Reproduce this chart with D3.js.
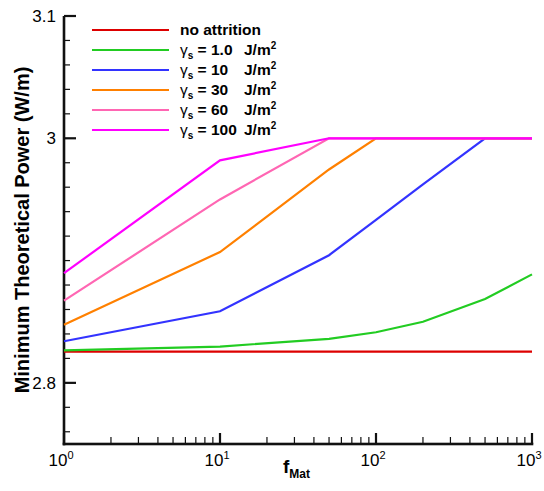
<!DOCTYPE html>
<html>
<head>
<meta charset="utf-8">
<script src="https://cdn.jsdelivr.net/npm/d3@7"></script>
<style>
  body { margin: 0; background: #fff; }
  text { font-family: "Liberation Sans", Arial, sans-serif; }
</style>
</head>
<body>
<div id="chart"></div>
<script>
const fMat = [1, 10, 50, 100, 200, 500, 1000];
const noAttrition = [2.8255, 2.8255, 2.8255, 2.8255, 2.8255, 2.8255, 2.8255];
const gamma1 = [2.8265, 2.8297, 2.836, 2.8414, 2.850, 2.8685, 2.8887];
const gamma10 = [2.834, 2.8585, 2.9044, 2.9333, 2.9623, 3.0, 3.0];
const gamma30 = [2.8476, 2.907, 2.9745, 3.0, 3.0, 3.0, 3.0];
const gamma60 = [2.8672, 2.950, 3.0, 3.0, 3.0, 3.0, 3.0];
const gamma100 = [2.8897, 2.982, 3.0, 3.0, 3.0, 3.0, 3.0];

const seriesNames = ["no attrition", "1.0", "10", "30", "60", "100"];
const seriesValues = [noAttrition, gamma1, gamma10, gamma30, gamma60, gamma100];
const colors = ["#dd0000", "#22cc22", "#3333ff", "#ff8000", "#ff66b3", "#ff00ff"];

const yMajor = [2.8, 3, 3.1];
const yMinor = [2.76, 2.78, 2.82, 2.84, 2.86, 2.88, 2.9, 2.92, 2.94, 2.96, 2.98, 3.02, 3.04, 3.06, 3.08];
const xMajor = [1, 10, 100, 1000];
const xMinor = [2, 3, 4, 5, 6, 7, 8, 9, 20, 30, 40, 50, 60, 70, 80, 90, 200, 300, 400, 500, 600, 700, 800, 900];

const width = 544, height = 491;
const margin = { top: 16, right: 12, bottom: 47, left: 64 };
const w = width - margin.left - margin.right;
const h = height - margin.top - margin.bottom;

const svg = d3.select("#chart").append("svg")
  .attr("width", width)
  .attr("height", height);

const g = svg.append("g")
  .attr("transform", `translate(${margin.left},${margin.top})`);

const x = d3.scaleLog().domain([1, 1000]).range([0, w]);
const y = d3.scaleLinear().domain([2.75, 3.1]).range([h, 0]);

// ticks as thin rects, pointing into the plot
g.selectAll(".ytickMinor").data(yMinor).enter().append("rect")
  .attr("x", 0).attr("y", d => y(d) - 0.6).attr("width", 6).attr("height", 1.2)
  .attr("fill", "#111");
g.selectAll(".ytickMajor").data(yMajor).enter().append("rect")
  .attr("x", 0).attr("y", d => y(d) - 1.1).attr("width", 12).attr("height", 2.2)
  .attr("fill", "#111");
g.selectAll(".xtickMinor").data(xMinor).enter().append("rect")
  .attr("x", d => x(d) - 0.6).attr("y", h - 7).attr("width", 1.2).attr("height", 7)
  .attr("fill", "#111");
g.selectAll(".xtickMajor").data(xMajor).enter().append("rect")
  .attr("x", d => x(d) - 1.1).attr("y", h - 11).attr("width", 2.2).attr("height", 11)
  .attr("fill", "#111");

// axis lines
g.append("rect").attr("x", -1.3).attr("y", 0).attr("width", 2.6).attr("height", h + 1.3).attr("fill", "#111");
g.append("rect").attr("x", -1.3).attr("y", h - 1.3).attr("width", w + 2.6).attr("height", 2.6).attr("fill", "#111");

// lines
const line = d3.line()
  .x((d, i) => x(fMat[i]))
  .y(d => y(d));

seriesValues.forEach((vals, k) => {
  g.append("path")
    .datum(vals)
    .attr("fill", "none")
    .attr("stroke", colors[k])
    .attr("stroke-width", 2.2)
    .attr("d", line);
});

g.selectAll(".ylab")
  .data(yMajor)
  .enter().append("text")
  .attr("x", -8)
  .attr("y", d => y(d) + 6)
  .attr("text-anchor", "end")
  .style("font-size", "17px")
  .text(d => d === 3 ? "3" : d3.format(".1f")(d));

const xl = g.selectAll(".xlab")
  .data(xMajor)
  .enter().append("text")
  .attr("x", d => x(d) - 3)
  .attr("y", h + 22)
  .attr("text-anchor", "middle")
  .style("font-size", "17px");
xl.append("tspan").text("10");
xl.append("tspan")
  .attr("dy", -7)
  .style("font-size", "11px")
  .text(d => Math.round(Math.log10(d)));

// axis titles
const xt = svg.append("text")
  .attr("x", 283)
  .attr("y", 473)
  .style("font-size", "19px")
  .style("font-weight", "bold");
xt.append("tspan").text("f");
xt.append("tspan").attr("dy", 5).style("font-size", "12px").text("Mat");

svg.append("text")
  .attr("transform", `translate(29,${margin.top + h / 2}) rotate(-90)`)
  .attr("text-anchor", "middle")
  .style("font-size", "20px")
  .style("font-weight", "bold")
  .text("Minimum Theoretical Power (W/m)");

// legend
const legend = svg.append("g");
seriesNames.forEach((name, k) => {
  const ly = 30 + k * 20;
  legend.append("line")
    .attr("x1", 92).attr("x2", 169)
    .attr("y1", ly).attr("y2", ly)
    .attr("stroke", colors[k])
    .attr("stroke-width", 2.2);
  const t = legend.append("text")
    .attr("x", 180)
    .attr("y", ly + 5)
    .style("font-size", "15.5px")
    .style("font-weight", "bold");
  if (k === 0) {
    t.text(name);
  } else {
    t.append("tspan").style("font-weight", "normal").text("\u03b3");
    t.append("tspan").attr("dy", 4).style("font-size", "10px").text("s");
    t.append("tspan").attr("dy", -4).text(" = " + name);
    t.append("tspan").attr("x", 244).text("J/m");
    t.append("tspan").attr("dy", -6).style("font-size", "10px").text("2");
  }
});
</script>
</body>
</html>
